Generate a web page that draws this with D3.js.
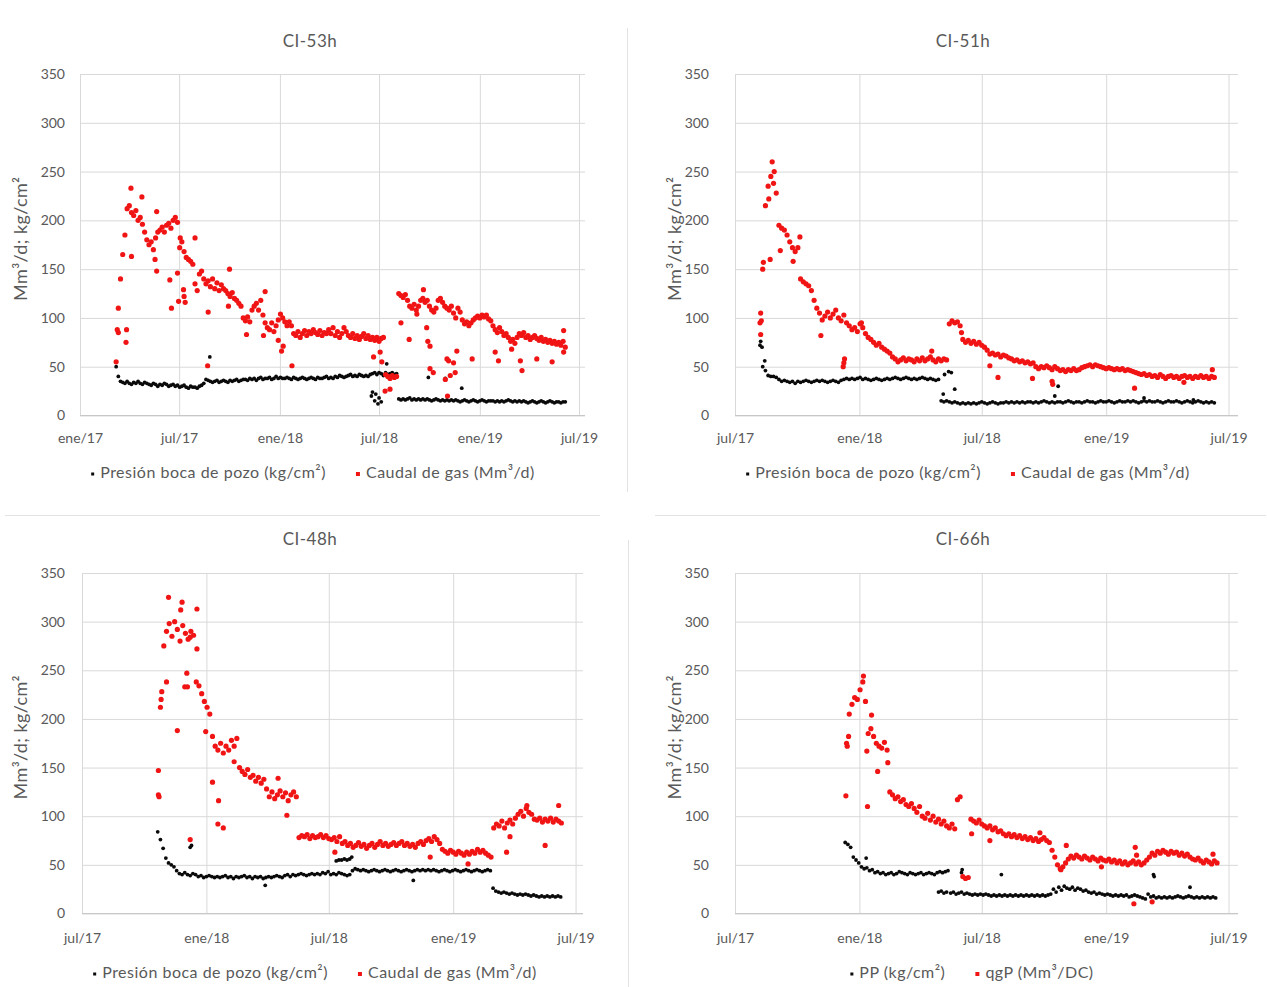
<!DOCTYPE html>
<html>
<head>
<meta charset="utf-8">
<script src="https://cdn.jsdelivr.net/npm/d3@7"></script>
<style>
  body { margin: 0; background: #fff; }
  svg { display: block; }
  text { font-family: Lato, "Noto Sans", "Liberation Sans", sans-serif; fill: #595959; }
</style>
</head>
<body>
<svg id="chart" width="1267" height="987"></svg>
<script>
// ---------- shared axis data ----------
const yTicks = [0, 50, 100, 150, 200, 250, 300, 350];
const monthNames = ["ene", "feb", "mar", "abr", "may", "jun", "jul", "ago", "sep", "oct", "nov", "dic"];
const ticksFromJan17 = ["2017-01-01", "2017-07-01", "2018-01-01", "2018-07-01", "2019-01-01", "2019-07-01"];
const ticksFromJul17 = ["2017-07-01", "2018-01-01", "2018-07-01", "2019-01-01", "2019-07-01"];
const titles = ["CI-53h", "CI-51h", "CI-48h", "CI-66h"];
const yAxisTitle = "Mm³/d; kg/cm²";
const legendPres = "Presión boca de pozo (kg/cm²)";
const legendGas = "Caudal de gas (Mm³/d)";
const legendPres66 = "PP (kg/cm²)";
const legendGas66 = "qgP (Mm³/DC)";

// Daily readings sampled every STEP days; day numbers count from each well's origin date.
const STEP = 4;

// ---------- CI-53h (origin 2017-01-01) ----------
const ci53Origin = "2017-01-01";
const ci53PresStart = 66;
const ci53Pres = [50,40,35,
  34,33,35,33,32,34,33,35,33,32,34,
  33,32,31,33,32,30,32,31,33,32,30,31,32,30,31,29,30,31,29,28,30,29,
  29,28,30,31,33,37,
  36,35,34,35,36,34,35,36,35,34,36,35,36,37,35,36,37,
  37,36,38,37,38,36,38,39,37,38,38,39,37,38,40,38,39,38,
  38,39,38,37,39,38,37,38,39,38,37,38,39,38,37,39,38,38,39,40,
  38,39,38,40,39,41,40,39,40,41,42,40,41,40,42,41,40,41,40,42,
  43,44,42,44,43,41,44,42,43,44,42,43,
  17,16,17,16,17,18,16,17,16,17,16,17,16,17,16,15,16,17,
  16,15,16,15,16,15,16,15,16,15,14,15,16,15,14,15,16,15,14,15,16,15,14,15,15,
  15,14,15,14,15,14,15,16,15,14,15,14,15,14,15,14,13,14,15,14,13,14,15,14,13,14,15,14,13,14,14,13,14,14];
const ci53PresExtra = [[237,60],[532,20],[534,24],[538,15],[540,22],[544,12],[546,18],[550,14],[560,53],[636,39],[667,38],[697,28]];
const ci53GasStart = 66;
const ci53Gas = [55,85,140,165,185,212,215,208,205,210,200,203,196,188,180,175,178,170,182,188,
  190,193,188,195,197,192,200,203,198,172,178,168,162,160,158,155,135,128,145,148,
  140,135,138,132,140,130,136,128,134,130,128,125,122,126,120,118,115,112,100,97,
  101,96,108,112,115,108,118,103,95,90,88,95,86,92,98,104,100,96,92,96,
  92,84,82,86,80,84,87,82,86,84,88,85,83,87,82,85,84,88,84,90,
  82,86,80,84,90,86,82,80,84,79,82,78,81,84,79,82,78,80,77,80,
  76,79,80,42,40,38,41,39,40,125,123,121,124,118,112,110,114,108,112,118,
  120,116,118,112,108,106,110,118,120,116,112,110,108,112,105,100,110,106,98,94,
  96,92,95,98,100,102,100,103,101,103,99,97,92,88,85,90,86,82,84,80,
  76,78,74,80,84,82,85,80,82,78,80,82,79,77,80,76,78,75,77,74,
  76,73,75,72,76,70];
const ci53GasExtra = [[68,88],[70,110],[84,75],[85,88],[93,233],[94,163],[113,224],[137,160],[140,209],[140,148],
  [164,139],[167,110],[178,146],[180,117],[183,182],[189,129],[190,122],[192,116],[210,182],[233,51],
  [234,106],[271,112],[273,150],[304,83],[335,82],[338,127],[362,77],[368,66],[371,71],[387,51],
  [536,60],[548,65],[551,55],[557,25],[566,27],[586,95],[601,78],[615,104],[627,129],[633,90],
  [635,76],[639,71],[639,48],[645,44],[667,37],[670,58],[671,20],[673,56],[676,41],[682,54],
  [685,44],[688,66],[716,58],[758,65],[764,56],[788,68],[804,56],[807,46],[834,58],[862,55],
  [883,87],[883,65]];

// ---------- CI-51h (origin 2017-07-01) ----------
const ci51Origin = "2017-07-01";
const ci51PresStart = 37;
const ci51Pres = [72,50,46,41,40,40,39,37,35,36,35,34,35,33,35,34,35,36,35,34,
  35,36,35,36,35,34,35,36,35,34,36,37,38,37,38,37,38,39,37,38,
  37,36,37,38,37,36,37,38,37,38,39,38,37,38,39,38,37,38,37,38,
  39,38,37,38,37,36,37,
  15,14,15,14,13,14,13,12,13,12, 13,12,13,12,13,14,13,12,13,14,
  13,12,13,13,14,13,14,13,14,13, 14,13,14,14,13,14,13,14,15,14,
  13,14,13,14,14,13,14,15,14,13, 14,14,13,14,15,14,14,13,14,15,
  14,14,15,14,13,14,15,14,14,15, 14,15,14,13,14,15,14,15,14,14,
  15,14,13,14,15,14,14,15,14,13, 14,15,14,13,14,15,14,13,14,13,
  14,13];
const ci51PresExtra = [[38,76],[40,70],[44,56],[308,22],[310,42],[316,45],[320,44],[325,27],[473,20],[478,30],[605,18],[678,16]];
const ci51GasStart = 37;
const ci51Gas = [95,150,215,235,245,238,228,195,192,190,185,178,172,168,172,140,137,135,133,128,
  118,110,105,98,102,106,100,104,108,100,97,103,95,92,88,90,86,94,90,84,
  80,78,75,72,74,70,68,66,64,60,58,55,57,59,56,58,57,55,58,56,
  59,56,58,60,57,55,58,56,58,57,94,97,95,96,92,78,75,77,74,76,
  73,75,72,70,67,63,64,62,63,60,62,61,59,58,56,57,55,56,54,55,
  53,54,50,48,50,49,51,49,47,50,48,46,47,45,47,46,48,46,47,49,
  50,51,52,50,52,51,50,49,48,49,48,47,48,47,48,46,47,46,45,44,
  43,42,43,41,42,40,41,39,42,40,38,40,41,39,40,38,40,41,39,40,
  38,40,39,41,39,40,38,40,39];
const ci51GasExtra = [[38,105],[38,83],[39,97],[42,157],[52,160],[55,260],[58,250],[50,222],[67,169],[86,158],
  [96,183],[127,82],[160,50],[161,54],[162,58],[187,95],[291,66],[335,85],[377,51],[389,39],
  [440,38],[469,35],[470,32],[591,28],[664,34],[706,47]];

// ---------- CI-48h (origin 2017-07-01) ----------
const ci48Origin = "2017-07-01";
const ci48PresStart = 112;
const ci48Pres = [84,76,67,57,52,50,48,44,41,40,42,40,39,41,40,38,39,37,38,39,
  38,37,38,37,38,39,37,38,36,38,37,38,39,37,38,36,38,37,38,36,
  37,38,37,38,39,38,37,39,40,38,40,39,40,41,40,39,40,41,40,41,
  40,42,41,43,40,41,40,42,41,40,39,40,44,46,
  45,44,45,44,43,44,45,44,43,44, 45,44,43,44,45,44,43,44,45,44,
  43,44,45,44,45,44,45,44,45,44, 43,44,45,44,43,44,45,44,43,44,
  45,44,43,44,45,44,43,44,45,44,
  26,23,22,21,22,21,20,21,20,19,20,19,20,19,18,19,18,17,18,17,18,17,18,17,18,17];
const ci48PresExtra = [[160,68],[162,70],[271,29],[376,54],[380,55],[384,55],[388,56],[392,55],[396,56],[399,58],[490,34]];
const ci48GasStart = 113;
const ci48Gas = [122,220,275,290,298,285,300,292,280,296,288,282,290,286,238,234,226,218,212,205,
  182,172,168,175,165,172,168,178,172,180,150,146,143,148,140,142,136,140,134,138,
  128,120,125,118,122,126,120,124,116,122,125,120,78,80,79,81,77,80,78,79,
  81,78,80,77,76,78,74,79,72,74,70,72,68,70,73,69,71,67,70,72,
  68,71,74,70,72,69,71,73,70,72,74,70,72,69,71,68,72,74,71,75,
  77,74,79,76,72,66,64,62,65,63,61,64,62,60,63,61,64,62,66,63,
  65,62,60,58,88,92,90,95,88,93,96,92,98,102,105,100,108,104,102,97,
  96,98,94,97,95,98,94,97,95,93];
const ci48GasExtra = [[113,147],[114,120],[116,212],[118,228],[125,238],[128,325],[141,188],[146,312],[148,320],[152,233],
  [155,247],[156,233],[160,284],[160,76],[170,313],[170,272],[183,187],[193,135],[201,92],[202,116],
  [209,88],[225,156],[290,139],[303,101],[374,63],[515,58],[571,51],[628,63],[633,79],[658,111],
  [685,70],[705,111]];

// ---------- CI-66h (origin 2017-07-01) ----------
const ci66Origin = "2017-07-01";
const ci66PresStart = 163;
const ci66Pres = [73,71,68,58,55,52,48,46,47,44, 45,42,43,41,42,40,41,42,40,41,
  43,42,41,40,42,41,40,41,42,40, 41,42,41,40,42,43,42,43,44,
  21,22,20,21,22,20,21,20,19,20, 19,20,19,20,19,18,19,18,19,18,
  19,18,19,18,19,18,19,18,19,18, 19,18,19,18,19,18,19,20,
  25,22,27,24,28,26,25,27,24,26, 25,23,24,22,21,22,20,21,20,19,
  20,19,18,19,18,19,18,19,17,18, 19,18,17,16,15,20,
  17,18,16,17,16,17,16,17,16,17, 18,17,16,17,18,17,16,17,16,17,
  16,17,16,17,16];
const ci66PresExtra = [[194,57],[301,22],[305,23],[309,21],[313,22],[335,42],[336,45],[394,40],[619,40],[620,38],[673,27]];
const ci66GasStart = 165;
const ci66Gas = [175,205,215,222,220,230,238,218,185,190,182,175,172,170,176,168,125,122,118,120,
  115,117,112,110,113,108,104,110,100,98,103,96,100,94,97,92,95,90,88,92,
  87,117,120,38,36,37,97,95,93,96,92,90,88,90,86,88,84,85,82,80,
  82,79,81,78,80,77,79,76,78,75,77,74,76,78,75,73,65,58,50,46,
  48,52,56,59,57,60,58,56,59,57,55,58,56,54,57,55,54,56,53,55,
  52,54,51,53,50,52,54,51,53,50,52,55,58,62,60,64,62,65,63,61,
  64,62,63,60,62,59,61,58,56,55,57,54,52,55,53,51,54,52];
const ci66GasExtra = [[164,121],[166,172],[168,182],[190,244],[195,167],[196,110],[202,204],[211,146],[226,155],[350,82],
  [377,75],[451,83],[482,45],[490,70],[542,48],[590,10],[592,68],[594,60],[617,12],[707,61]];

// ---------- helpers ----------
const parse = d3.utcParse("%Y-%m-%d");
const DAY = 864e5;
const sampled = (origin, start, values) =>
  values.map((v, i) => ({ date: new Date(+parse(origin) + (start + i * STEP) * DAY), value: v }));
const dated = (origin, pairs) =>
  pairs.map(([d, v]) => ({ date: new Date(+parse(origin) + d * DAY), value: v }));
const tickFormat = d => monthNames[d.getUTCMonth()] + "/" + String(d.getUTCFullYear()).slice(2);

const svg = d3.select("#chart");

// light borders between the four charts
const frame = svg.append("g").attr("stroke", "#e3e3e3").attr("stroke-width", 1);
frame.append("line").attr("x1", 627.5).attr("x2", 627.5).attr("y1", 28).attr("y2", 492);
frame.append("line").attr("x1", 628.5).attr("x2", 628.5).attr("y1", 540).attr("y2", 987);
frame.append("line").attr("x1", 5).attr("x2", 600).attr("y1", 515.5).attr("y2", 515.5);
frame.append("line").attr("x1", 655).attr("x2", 1266).attr("y1", 515.5).attr("y2", 515.5);

const panels = [
  { title: titles[0], xFrom: "2017-01-01", xTo: "2019-07-12", ticks: ticksFromJan17,
    left: 80, right: 585, top: 74, bottom: 415.5, titleX: 310, titleY: 43, yTitleX: 22, yPad: 15, xPad: 18,
    legendX: 313, legendY: 474, labels: [legendPres, legendGas],
    pres: [sampled(ci53Origin, ci53PresStart, ci53Pres), dated(ci53Origin, ci53PresExtra)],
    gas: [sampled(ci53Origin, ci53GasStart, ci53Gas), dated(ci53Origin, ci53GasExtra)] },
  { title: titles[1], xFrom: "2017-07-01", xTo: "2019-07-15", ticks: ticksFromJul17,
    left: 735, right: 1238, top: 74, bottom: 415.5, titleX: 963, titleY: 43, yTitleX: 676, yPad: 26, xPad: 18,
    legendX: 968, legendY: 474, labels: [legendPres, legendGas],
    pres: [sampled(ci51Origin, ci51PresStart, ci51Pres), dated(ci51Origin, ci51PresExtra)],
    gas: [sampled(ci51Origin, ci51GasStart, ci51Gas), dated(ci51Origin, ci51GasExtra)] },
  { title: titles[2], xFrom: "2017-07-01", xTo: "2019-07-12", ticks: ticksFromJul17,
    left: 82, right: 583, top: 573, bottom: 913.5, titleX: 310, titleY: 541, yTitleX: 22, yPad: 17, xPad: 20,
    legendX: 315, legendY: 974, labels: [legendPres, legendGas],
    pres: [sampled(ci48Origin, ci48PresStart, ci48Pres), dated(ci48Origin, ci48PresExtra)],
    gas: [sampled(ci48Origin, ci48GasStart, ci48Gas), dated(ci48Origin, ci48GasExtra)] },
  { title: titles[3], xFrom: "2017-07-01", xTo: "2019-07-15", ticks: ticksFromJul17,
    left: 735, right: 1238, top: 573, bottom: 913.5, titleX: 963, titleY: 541, yTitleX: 676, yPad: 26, xPad: 20,
    legendX: 972, legendY: 974, labels: [legendPres66, legendGas66],
    pres: [sampled(ci66Origin, ci66PresStart, ci66Pres), dated(ci66Origin, ci66PresExtra)],
    gas: [sampled(ci66Origin, ci66GasStart, ci66Gas), dated(ci66Origin, ci66GasExtra)] }
];

const GRID = "#d9d9d9";
const RED = "#f01414";
const BLACK = "#0a0a0a";
const FONT = "Lato, 'Noto Sans', sans-serif";

panels.forEach(p => {
  const g = svg.append("g");
  const x = d3.scaleUtc().domain([parse(p.xFrom), parse(p.xTo)]).range([p.left, p.right]);
  const y = d3.scaleLinear().domain([0, 350]).range([p.bottom, p.top]);

  // y axis with horizontal gridlines
  const ya = g.append("g").attr("transform", `translate(${p.left},0)`)
    .call(d3.axisLeft(y).tickValues(yTicks).tickSize(-(p.right - p.left)).tickPadding(p.yPad));
  ya.select(".domain").remove();
  ya.selectAll("line").attr("stroke", GRID);
  ya.selectAll("text").attr("font-size", 14).style("fill", "#595959").style("font-family", FONT);

  // x axis with vertical gridlines
  const xa = g.append("g").attr("transform", `translate(0,${p.bottom})`)
    .call(d3.axisBottom(x).tickValues(p.ticks.map(parse)).tickFormat(tickFormat)
      .tickSize(-(p.bottom - p.top)).tickPadding(p.xPad));
  xa.select(".domain").remove();
  xa.selectAll("line").attr("stroke", GRID);
  xa.selectAll("text").attr("font-size", 14).style("fill", "#595959").style("font-family", FONT);

  // baseline
  g.append("line").attr("x1", p.left).attr("x2", p.right)
    .attr("y1", y(0)).attr("y2", y(0)).attr("stroke", "#c8c8c8");

  // title
  g.append("text").attr("x", p.titleX).attr("y", p.titleY).attr("text-anchor", "middle")
    .attr("dominant-baseline", "middle").attr("font-size", 17).attr("letter-spacing", 0.5).text(p.title);

  // y axis title
  g.append("text")
    .attr("transform", `translate(${p.yTitleX},${(p.top + p.bottom) / 2 - 6}) rotate(-90)`)
    .attr("text-anchor", "middle").attr("dominant-baseline", "middle")
    .attr("font-size", 18).attr("letter-spacing", 0.4).text(yAxisTitle);

  // pressure (black) then gas rate (red)
  const dots = g.append("g");
  dots.selectAll(".p").data(p.pres.flat()).join("circle")
    .attr("cx", d => x(d.date)).attr("cy", d => y(d.value)).attr("r", 1.9).attr("fill", BLACK);
  dots.selectAll(".q").data(p.gas.flat()).join("circle")
    .attr("cx", d => x(d.date)).attr("cy", d => y(d.value)).attr("r", 2.6).attr("fill", RED);

  // legend
  const lg = g.append("g");
  const items = [{ label: p.labels[0], color: BLACK, s: 3 }, { label: p.labels[1], color: RED, s: 4 }];
  let cx = 0;
  items.forEach(it => {
    lg.append("rect").attr("x", cx).attr("y", -it.s / 2).attr("width", it.s).attr("height", it.s).attr("fill", it.color);
    const t = lg.append("text").attr("x", cx + it.s + 6).attr("y", 0).attr("dominant-baseline", "middle")
      .attr("font-size", 16).attr("letter-spacing", 0.5).text(it.label);
    cx += it.s + 6 + t.node().getComputedTextLength() + 30;
  });
  const total = cx - 30;
  lg.attr("transform", `translate(${p.legendX - total / 2},${p.legendY})`);
});
</script>
</body>
</html>
